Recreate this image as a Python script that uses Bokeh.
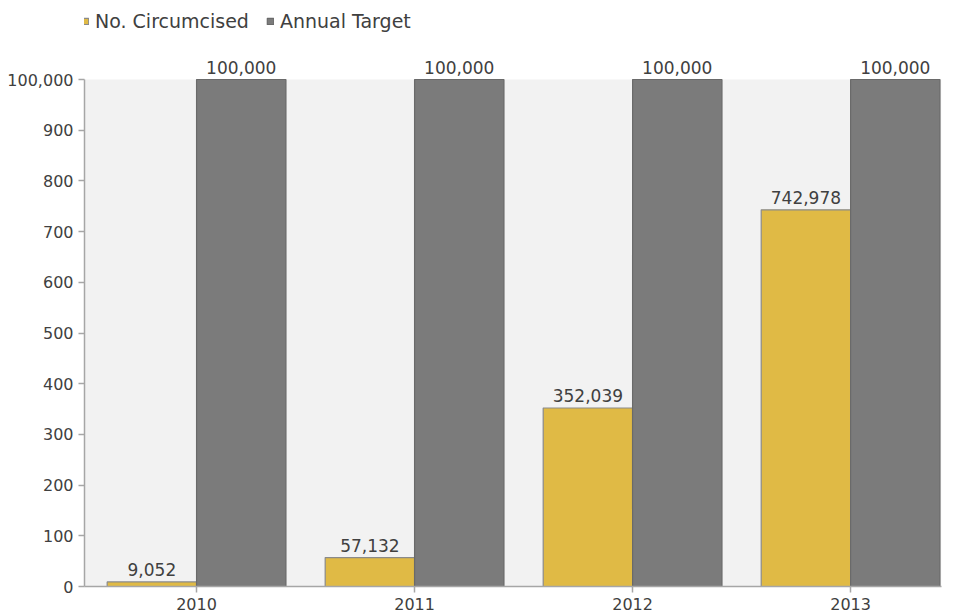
from bokeh.plotting import figure
from bokeh.models import Range1d, FixedTicker, Legend, LegendItem, ColumnDataSource, BoxAnnotation
from bokeh.core.properties import value
from bokeh.embed import file_html
from bokeh.resources import INLINE

years = ["2010", "2011", "2012", "2013"]
circumcised = [9052, 57132, 352039, 742978]
circumcised_labels = ["9,052", "57,132", "352,039", "742,978"]
annual_target = [1000000, 1000000, 1000000, 1000000]
target_labels = ["100,000", "100,000", "100,000", "100,000"]
y_ticks = [0, 100000, 200000, 300000, 400000, 500000, 600000, 700000, 800000, 900000, 1000000]
y_tick_labels = ["0", "100", "200", "300", "400", "500", "600", "700", "800", "900", "100,000"]
y_max = 1000000

FONT = "DejaVu Sans"
TXT = "#404040"
YEL = "#E0BA45"
GRY = "#7B7B7B"

bw = 0.41
xc = list(range(len(years)))

W, H = 954, 615
TOP, BOTTOM, LEFT, RIGHT = 5, 29, 84, 13
frame_h = H - TOP - BOTTOM
area_h = 507  # pixel height of the shaded plot area
y_end = y_max * frame_h / area_h

p = figure(width=W, height=H, output_backend="svg", toolbar_location=None,
           x_range=Range1d(-0.514, 3.417), y_range=Range1d(0, y_end))
p.min_border_left = LEFT
p.min_border_right = RIGHT
p.min_border_top = TOP
p.min_border_bottom = BOTTOM
p.background_fill_color = "white"
p.border_fill_color = "white"
p.outline_line_color = None
p.xgrid.grid_line_color = None
p.ygrid.grid_line_color = None

p.add_layout(BoxAnnotation(bottom=0, top=y_max, fill_color="#F2F2F2",
                           fill_alpha=1, line_color=None, level="underlay"))

src = ColumnDataSource(dict(
    x=xc,
    xl=[c - bw / 2 for c in xc],
    xr=[c + bw / 2 for c in xc],
    c=circumcised, t=annual_target,
    cl=circumcised_labels, tl=target_labels,
))

r1 = p.vbar(x="xl", width=bw, top="c", bottom=0, source=src,
            fill_color=YEL, line_color="#8a8a8a", line_width=1.2)
r2 = p.vbar(x="xr", width=bw, top="t", bottom=0, source=src,
            fill_color=GRY, line_color="#6a6a6a", line_width=1.2)

p.text(x="xl", y="c", text="cl", source=src, text_align="center",
       text_baseline="bottom", y_offset=-6, text_font=value(FONT),
       text_font_size="17px", text_color=TXT)
p.text(x="xr", y="t", text="tl", source=src, text_align="center",
       text_baseline="bottom", y_offset=-6, text_font=value(FONT),
       text_font_size="17px", text_color=TXT)

p.xaxis.ticker = FixedTicker(ticks=xc)
p.xaxis.major_label_overrides = {i: y for i, y in zip(xc, years)}
p.yaxis.ticker = FixedTicker(ticks=y_ticks)
p.yaxis.major_label_overrides = {t: l for t, l in zip(y_ticks, y_tick_labels)}
p.yaxis.bounds = (0, y_max)

for ax in (p.xaxis, p.yaxis):
    ax.axis_line_color = "#a6a6a6"
    ax.axis_line_width = 1.5
    ax.major_tick_line_color = "#a6a6a6"
    ax.major_tick_line_width = 1.5
    ax.major_tick_out = 6
    ax.major_tick_in = 0
    ax.minor_tick_line_color = None
    ax.major_label_text_font = FONT
    ax.major_label_text_font_size = "16px"
    ax.major_label_text_color = TXT
p.yaxis.major_label_standoff = 5
p.xaxis.major_label_standoff = 5

legend = Legend(items=[LegendItem(label="No. Circumcised", renderers=[r1]),
                       LegendItem(label="Annual Target", renderers=[r2])],
                orientation="horizontal", location=(-3, frame_h - 27),
                glyph_width=8, glyph_height=8, label_text_font=FONT,
                label_text_font_size="19px", label_text_color=TXT,
                border_line_color=None, background_fill_alpha=0,
                padding=0, spacing=17, label_standoff=6, margin=0)
p.add_layout(legend, "center")

open("out.html", "w").write(file_html(p, INLINE))
